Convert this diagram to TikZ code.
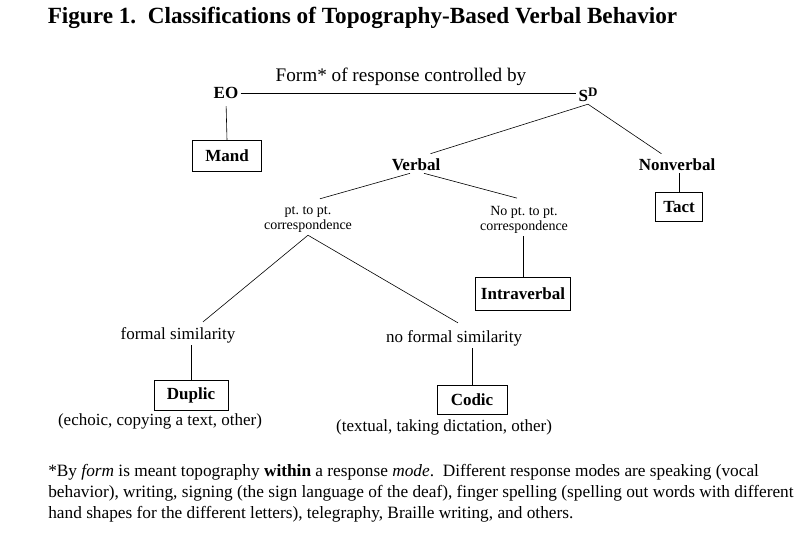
\documentclass[tikz,border=0pt]{standalone}
\usepackage{fontspec}
\setmainfont{Liberation Serif}
\usepackage{tikz}
\usetikzlibrary{positioning, calc}

\begin{document}
\begin{tikzpicture}[x=1pt, y=-1pt, line width=0.6pt,
    catbox/.style={draw, line width=0.8pt, inner sep=0pt, font=\fontsize{17}{17}\selectfont\bfseries},
    cat/.style={inner sep=2pt, font=\fontsize{17}{17}\selectfont\bfseries},
    crit/.style={inner sep=2pt, font=\fontsize{17}{17}\selectfont},
    corr/.style={inner sep=2pt, align=center, font=\fontsize{14}{15}\selectfont}]
    \useasboundingbox (0,0) rectangle (806,538);
    \node[font=\fontsize{23.2}{23}\selectfont\bfseries] (title) at (362.5,18) {Figure 1.\ \ Classifications of Topography-Based Verbal Behavior};
    \node[cat] (eo) at (226,93) {EO};
    \node[cat] (sd) at (588,95) {S\raisebox{0.3em}{\fontsize{13}{13}\selectfont D}};
    \node[crit, font=\fontsize{19.2}{19}\selectfont] (formby) at (401,77) {Form* of response controlled by};
    \node[catbox, minimum width=69pt, minimum height=31pt] (mand) at (227,156) {Mand};
    \node[cat] (verbal) at (416,165) {Verbal};
    \node[cat] (nonverbal) at (677,165) {Nonverbal};
    \node[catbox, minimum width=47pt, minimum height=29pt] (tact) at (679,207) {Tact};
    \node[corr] (ptpt) at (308,220) {pt.\ to pt.\\correspondence};
    \node[corr] (noptpt) at (524,220) {No pt.\ to pt.\\correspondence};
    \node[catbox, minimum width=95pt, minimum height=33pt] (intra) at (523,294) {Intraverbal};
    \node[crit] (formsim) at (178,335) {formal similarity};
    \node[crit] (noformsim) at (454,338) {no formal similarity};
    \node[catbox, minimum width=74pt, minimum height=30pt] (duplic) at (191,395) {Duplic};
    \node[crit] (dupnote) at (160,421) {(echoic, copying a text, other)};
    \node[catbox, minimum width=70pt, minimum height=29pt] (codic) at (472,400) {Codic};
    \node[crit] (codnote) at (444,427) {(textual, taking dictation, other)};
    \node[anchor=north west, inner sep=0pt, align=left, font=\fontsize{17.3}{21}\selectfont] (note) at (48,464)
        {*By \textit{form} is meant topography \textbf{within} a response \textit{mode}.\ \ Different response modes are speaking (vocal\\
         behavior), writing, signing (the sign language of the deaf), finger spelling (spelling out words with different\\
         hand shapes for the different letters), telegraphy, Braille writing, and others.};
    % connectors
    \draw (eo.east) -- (eo.east -| sd.west);
    \draw[shorten <=5pt] (eo.south) -- (mand.north);
    \draw (sd.south) -- ($(verbal.north east)+(-12,-3)$);
    \draw (sd.south) -- ($(nonverbal.north west)+(25,-3)$);
    \draw (tact.north) -- (tact.north |- nonverbal.south);
    \draw ($(verbal.south)+(-6,0)$) -- ($(ptpt.north)+(12,-6)$);
    \draw ($(verbal.south)+(8,0)$) -- ($(noptpt.north)+(-7,-6)$);
    \draw (intra.north) -- (intra.north |- noptpt.south);
    \draw (ptpt.south) -- ($(formsim.north)+(25,-3)$);
    \draw (ptpt.south) -- ($(noformsim.north)+(4,-5)$);
    \draw (duplic.north) -- (duplic.north |- formsim.south);
    \draw (codic.north) -- (codic.north |- noformsim.south);
\end{tikzpicture}
\end{document}
